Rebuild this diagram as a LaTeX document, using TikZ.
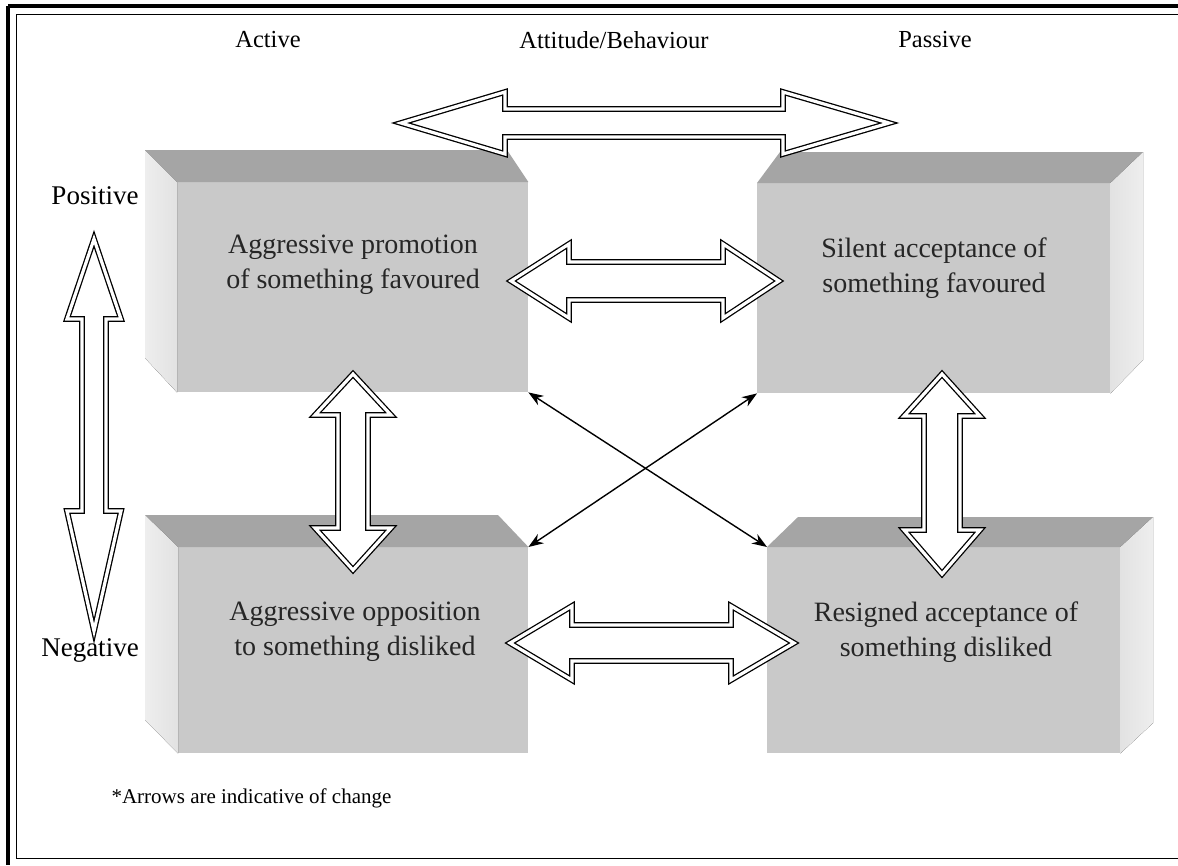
\documentclass[tikz,border=0pt]{standalone}
\usepackage{fontspec}
\setmainfont{Liberation Serif}
\usetikzlibrary{arrows.meta}
\definecolor{facefrontc}{RGB}{201,201,201}
\definecolor{facetopc}{RGB}{165,165,165}
\definecolor{facesidec}{RGB}{226,226,226}
\definecolor{facesidelight}{RGB}{238,238,238}
\newcommand\hblockarrow[7]{% cx cy L h1 h2 H S
\draw[blockarrow] ({#1-#3},{#2}) -- ({#1-#3+#4},{#2-#6}) -- ({#1-#3+#4},{#2-#7}) -- ({#1+#3-#5},{#2-#7}) -- ({#1+#3-#5},{#2-#6}) -- ({#1+#3},{#2}) -- ({#1+#3-#5},{#2+#6}) -- ({#1+#3-#5},{#2+#7}) -- ({#1-#3+#4},{#2+#7}) -- ({#1-#3+#4},{#2+#6}) -- cycle;}
\newcommand\vblockarrow[7]{% cx cy L h1 h2 H S
\draw[blockarrow] ({#1},{#2-#3}) -- ({#1-#6},{#2-#3+#4}) -- ({#1-#7},{#2-#3+#4}) -- ({#1-#7},{#2+#3-#5}) -- ({#1-#6},{#2+#3-#5}) -- ({#1},{#2+#3}) -- ({#1+#6},{#2+#3-#5}) -- ({#1+#7},{#2+#3-#5}) -- ({#1+#7},{#2-#3+#4}) -- ({#1+#6},{#2-#3+#4}) -- cycle;}
\begin{document}
\begin{tikzpicture}[x=1pt,y=-1pt,
  facefront/.style={fill=facefrontc, draw=none, inner sep=0pt, anchor=north west},
  facetop/.style={fill=facetopc},
  sideL/.style={left color=facesidelight, right color=facesidec},
  sideR/.style={left color=facesidec, right color=facesidelight},
  boxtext/.style={align=center, font=\fontsize{28}{35}\selectfont, text=black!85},
  lbl/.style={font=\fontsize{24.5}{28}\selectfont},
  sidelbl/.style={font=\fontsize{27}{32}\selectfont},
  blockarrow/.style={fill=white, draw=black, line width=1.3pt, double=white, double distance=3.2pt, line join=miter},
  thinarrow/.style={{Stealth[length=15pt,width=11pt]}-{Stealth[length=15pt,width=11pt]}, line width=1.4pt},
  frameline/.style={line width=1pt}
]
\useasboundingbox (0,0) rectangle (1178,865);
% frame
\draw[line width=3.5pt] (8,6) -- (1178,6);
\draw[line width=3.5pt] (8,6) -- (8,865);
\draw[frameline] (16,14) -- (1178,14);
\draw[frameline] (16,14) -- (16,858) -- (1178,858);

% top labels
\node[lbl] (active) at (268,40) {Active};
\node[lbl] (attitude) at (614,40) {Attitude/Behaviour};
\node[lbl] (passive) at (935,40) {Passive};
\node[sidelbl] (positive) at (95,196) {Positive};
\node[sidelbl] (negative) at (90,650) {Negative};

% box TL
\node[facefront, minimum width=351pt, minimum height=210pt] (tl) at (177,182) {};
\fill[facetop] (tl.north west) -- (tl.north east) -- (507,150) -- (145,150) -- cycle;
\fill[sideL] (145,150) -- (tl.north west) -- (tl.south west) -- (145,358) -- cycle;
\node[boxtext] (tltext) at (353,265) {Aggressive promotion\\of something favoured};
% box TR
\node[facefront, minimum width=353pt, minimum height=210pt] (tr) at (757,183) {};
\fill[facetop] (tr.north west) -- (tr.north east) -- (1143,152) -- (780,152) -- cycle;
\fill[sideR] (tr.north east) -- (1143,152) -- (1143,360) -- (tr.south east) -- cycle;
\node[boxtext] (trtext) at (934,268) {Silent acceptance of\\something favoured};
% box BL
\node[facefront, minimum width=350pt, minimum height=206pt] (bl) at (178,547) {};
\fill[facetop] (bl.north west) -- (bl.north east) -- (498,515) -- (145,515) -- cycle;
\fill[sideL] (145,515) -- (bl.north west) -- (bl.south west) -- (145,720) -- cycle;
\node[boxtext] (bltext) at (355,632) {Aggressive opposition\\to something disliked};
% box BR
\node[facefront, minimum width=353pt, minimum height=206pt] (br) at (767,547) {};
\fill[facetop] (br.north west) -- (br.north east) -- (1153,517) -- (798,517) -- cycle;
\fill[sideR] (br.north east) -- (1153,517) -- (1153,723) -- (br.south east) -- cycle;
\node[boxtext] (brtext) at (946,632) {Resigned acceptance of\\something disliked};

% block arrows
\hblockarrow{645}{123}{244}{104}{106}{31}{14}
\hblockarrow{645}{281}{134}{58}{56}{37}{19}
\hblockarrow{652}{643}{142}{62}{63}{37}{18}
\vblockarrow{94}{435}{196}{80}{120}{27}{12}
\vblockarrow{353}{472}{98}{41}{42}{38}{15}
\vblockarrow{942}{474}{100}{42}{44}{38}{18}

% thin crossing arrows
\draw[thinarrow] (tl.south east) -- (br.north west);
\draw[thinarrow] (tr.south west) -- (bl.north east);

% footnote
\node[font=\fontsize{21}{25}\selectfont, anchor=west] (note) at (108,798) {*Arrows are indicative of change};
\end{tikzpicture}
\end{document}
